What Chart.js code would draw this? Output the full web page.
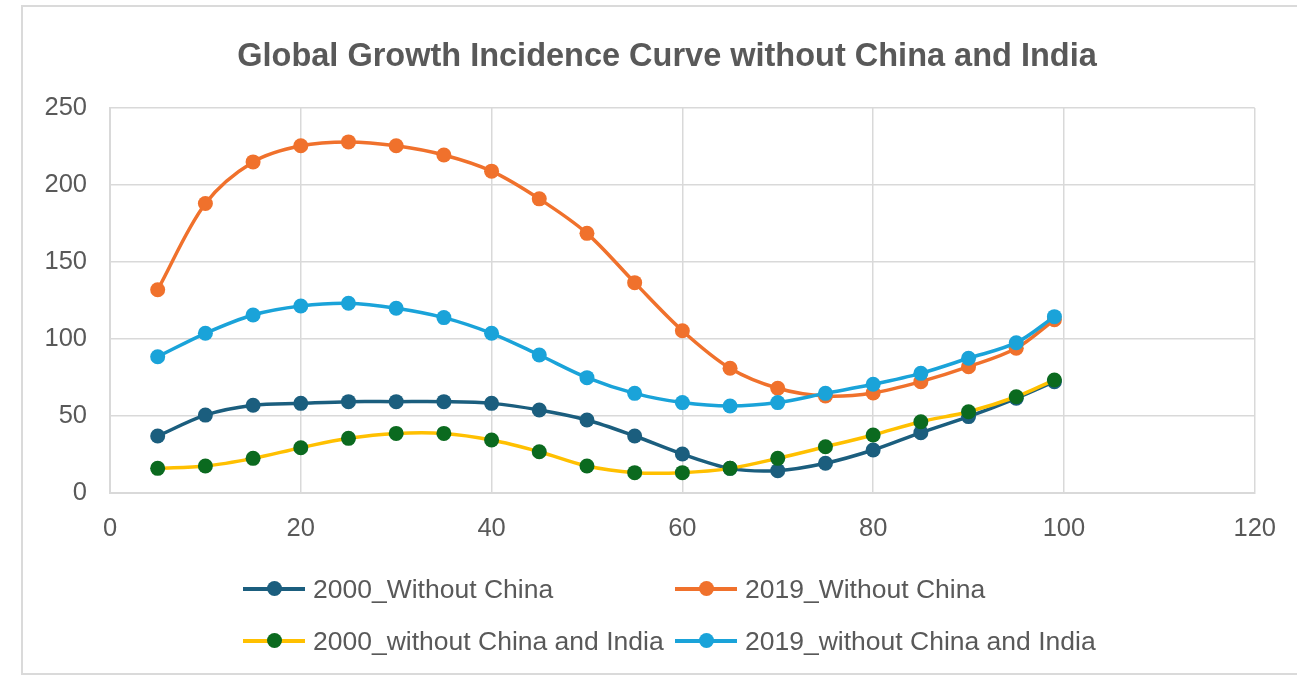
<!DOCTYPE html>
<html>
<head>
<meta charset="utf-8">
<title>Global Growth Incidence Curve without China and India</title>
<script src="https://cdn.jsdelivr.net/npm/chart.js@4.4.1/dist/chart.umd.min.js"></script>
<style>
  html, body { margin: 0; padding: 0; background: #fff; overflow: hidden; }
  #wrap { position: relative; width: 1297px; height: 681px; }
  #frame {
    position: absolute; left: 21px; top: 5px; width: 1300px; height: 670px;
    border: 2px solid #dadada; box-sizing: border-box;
  }
  #chart { position: absolute; left: 0; top: 0; }
  #title {
    position: absolute; left: 0; width: 1334px; top: 35px; text-align: center;
    font-family: "Liberation Sans", Arial, sans-serif; font-weight: bold; font-size: 32.5px;
    color: #595959; line-height: 40px; white-space: nowrap;
  }
  #legend {
    position: absolute; left: 243px; top: 571px;
    font-family: "Liberation Sans", Arial, sans-serif; font-size: 26.5px; color: #595959;
    display: grid; grid-template-columns: 432px auto; row-gap: 16px;
  }
  .item { display: flex; align-items: center; height: 36px; white-space: nowrap; }
  .key { position: relative; width: 62px; height: 16px; margin-right: 8px; flex: none; }
  .key .ln { position: absolute; left: 0; right: 0; top: 6px; height: 4px; }
  .key .dot { position: absolute; left: 24px; top: 0; width: 15px; height: 15px; border-radius: 50%; }
</style>
</head>
<body>
<div id="wrap">
  <div id="frame"></div>
  <canvas id="chart" width="1297" height="681"></canvas>
  <div id="title">Global Growth Incidence Curve without China and India</div>
  <div id="legend"></div>
</div>
<script>
document.addEventListener('DOMContentLoaded', () => {
    // income percentile and cumulative real income growth (%)
    const percentiles = [5, 10, 15, 20, 25, 30, 35, 40, 45, 50, 55, 60, 65, 70, 75, 80, 85, 90, 95, 99];

    const growth2000NoChina = [37, 50.6, 57, 58.2, 59.3, 59.3, 59.3, 58.2, 53.9, 47.4,
        37, 25.3, 16, 14.5, 19.3, 27.9, 39.2, 49.6, 61.5, 72.3];
    const growth2019NoChina = [132, 188, 215, 225.5, 228, 225.5, 219.5, 209, 191, 168.6,
        136.6, 105.4, 81, 68, 63, 65, 72.3, 82, 94, 112.5];
    const growth2000NoChinaIndia = [16, 17.5, 22.5, 29.4, 35.5, 38.7, 38.7, 34.4, 26.8, 17.5,
        13.2, 13.2, 16, 22.5, 30, 37.7, 46.3, 52.8, 62.5, 73.4];
    const growth2019NoChinaIndia = [88.5, 103.7, 115.6, 121.4, 123.2, 120, 113.9, 103.7, 89.6, 74.9,
        64.7, 58.7, 56.5, 58.7, 64.7, 70.6, 77.7, 87.5, 97.6, 114.5];

    const seriesNames = ['2000_Without China', '2019_Without China',
        '2000_without China and India', '2019_without China and India'];
    const lineColors = ['#1b5e7e', '#f0712c', '#ffc000', '#1aa3d9'];
    const markerColors = ['#1b5e7e', '#f0712c', '#0b6a1f', '#1aa3d9'];

    const xTicks = [0, 20, 40, 60, 80, 100, 120];
    const yTicks = [0, 50, 100, 150, 200, 250];

    const gridColor = '#d9d9d9';
    const textColor = '#595959';
    const font = 'Liberation Sans, Arial, sans-serif';

    function toPoints(values) {
        return values.map((v, i) => ({ x: percentiles[i], y: v }));
    }

    const allSeries = [growth2000NoChina, growth2019NoChina, growth2000NoChinaIndia, growth2019NoChinaIndia];

    const datasets = allSeries.map((values, i) => ({
        label: seriesNames[i],
        data: toPoints(values),
        borderColor: lineColors[i],
        backgroundColor: markerColors[i],
        pointBackgroundColor: markerColors[i],
        pointBorderColor: markerColors[i],
        borderWidth: 3.5,
        pointRadius: 7.5,
        pointBorderWidth: 0,
        tension: 0.33,
        // later series sit on top, like the original spreadsheet
        order: allSeries.length - i
    }));

    new Chart(document.getElementById('chart'), {
        type: 'line',
        data: { datasets },
        options: {
            responsive: false,
            animation: false,
            layout: { padding: { top: 108, right: 40, bottom: 0, left: 0 } },
            plugins: {
                legend: { display: false },
                tooltip: { enabled: false }
            },
            scales: {
                x: {
                    type: 'linear',
                    min: xTicks[0],
                    max: xTicks[xTicks.length - 1],
                    afterBuildTicks: scale => { scale.ticks = xTicks.map(v => ({ value: v })); },
                    afterFit: scale => { scale.height = 188; },
                    grid: { color: gridColor, lineWidth: 1.5, drawTicks: false },
                    border: { color: gridColor, width: 2 },
                    ticks: { color: textColor, font: { family: font, size: 25.5 }, padding: 21, maxRotation: 0 }
                },
                y: {
                    min: yTicks[0],
                    max: yTicks[yTicks.length - 1],
                    afterBuildTicks: scale => { scale.ticks = yTicks.map(v => ({ value: v })); },
                    afterFit: scale => { scale.width = 110; },
                    grid: { color: gridColor, lineWidth: 1.5, drawTicks: false },
                    border: { color: gridColor, width: 2 },
                    ticks: { color: textColor, font: { family: font, size: 25.5 }, padding: 23 }
                }
            }
        }
    });

    // two-column legend under the plot
    const legend = document.getElementById('legend');
    seriesNames.forEach((name, i) => {
        const item = document.createElement('div');
        item.className = 'item';
        item.innerHTML = `
            <span class="key">
                <span class="ln" style="background:${lineColors[i]}"></span>
                <span class="dot" style="background:${markerColors[i]}"></span>
            </span>
            <span>${name}</span>
        `;
        legend.appendChild(item);
    });
});
</script>
</body>
</html>
